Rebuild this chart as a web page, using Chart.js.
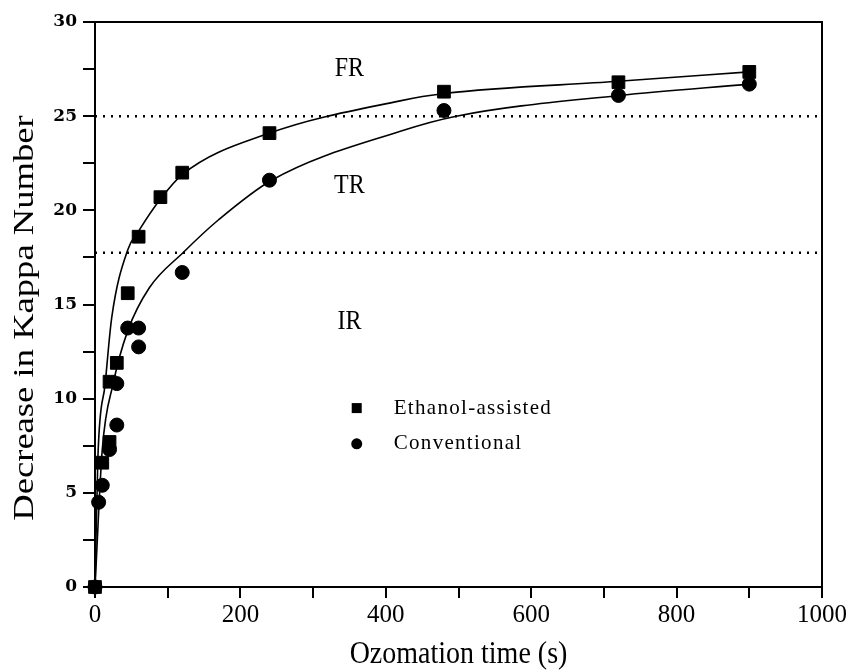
<!DOCTYPE html>
<html>
<head>
<meta charset="utf-8">
<script src="https://cdn.jsdelivr.net/npm/chart.js@4.4.1/dist/chart.umd.min.js"></script>
<style>
  html, body { margin: 0; padding: 0; background: #fff; }
  #wrap { width: 849px; height: 671px; }
</style>
</head>
<body>
<div id="wrap"><canvas id="kappaChart" width="849" height="671"></canvas></div>
<script>
const ethanolTime  = [0, 10, 20, 20, 30, 45, 60, 90, 120, 240, 480, 720, 900];
const ethanolKappa = [0, 6.6, 7.7, 10.9, 11.9, 15.6, 18.6, 20.7, 22.0, 24.1, 26.3, 26.8, 27.35];

const convTime  = [0, 5, 10, 20, 30, 30, 45, 60, 60, 120, 240, 480, 720, 900];
const convKappa = [0, 4.5, 5.4, 7.3, 8.6, 10.8, 13.75, 13.75, 12.75, 16.7, 21.6, 25.3, 26.1, 26.7];

// fitted curves
const ethanolFitTime  = [0, 4, 14, 23, 45, 60, 90, 120, 240, 418, 480, 720, 900];
const ethanolFitKappa = [0, 6.9, 10.8, 14.3, 17.9, 18.9, 20.6, 21.9, 24.1, 25.8, 26.2, 26.85, 27.35];

const convFitTime  = [0, 10, 25, 45, 75, 121, 170, 243, 420, 497, 721, 900];
const convFitKappa = [0, 7.3, 10.8, 13.6, 15.9, 17.75, 19.5, 21.6, 24.2, 25.0, 26.1, 26.7];

// region boundaries (dotted lines) and labels
const regionBounds = [25, 17.75];
const regionNames  = ["FR", "TR", "IR"];
const regionLabelTime  = [350, 350, 350];
const regionLabelKappa = [27.5, 21.3, 14.1];

const seriesNames = ["Ethanol-assisted", "Conventional"];
const xTitle = "Ozomation time (s)";
const yTitle = "Decrease in Kappa Number";
const xMin = 0, xMax = 1000, yMin = 0, yMax = 30;

function toPoints(xs, ys) {
  return xs.map((x, i) => ({ x: x, y: ys[i] }));
}

const boundDatasets = regionBounds.map(v => ({
  type: "line",
  data: [{ x: xMin, y: v }, { x: xMax, y: v }],
  borderColor: "#000",
  borderWidth: 2.5,
  borderDash: [2, 6],
  pointRadius: 0,
  fill: false
}));

const framePlugin = {
  id: "frame",
  afterDraw(chart) {
    const { ctx, chartArea: a, scales } = chart;
    ctx.save();
    ctx.strokeStyle = "#000";
    ctx.lineWidth = 2;
    ctx.beginPath();
    ctx.moveTo(a.left, a.top);
    ctx.lineTo(a.right, a.top);
    ctx.lineTo(a.right, a.bottom);
    ctx.stroke();

    ctx.fillStyle = "#000";
    ctx.textAlign = "center";
    ctx.textBaseline = "middle";

    // region labels
    ctx.font = "24px 'Liberation Serif'";
    regionNames.forEach((n, i) => {
      const px = scales.x.getPixelForValue(regionLabelTime[i]);
      const py = scales.y.getPixelForValue(regionLabelKappa[i]);
      ctx.save();
      ctx.translate(px, py);
      ctx.scale(1, 1.12);
      ctx.fillText(n, 0, 0);
      ctx.restore();
    });

    // axis titles (the figure is slightly stretched vertically)
    ctx.save();
    ctx.font = "28px 'Liberation Serif'";
    ctx.translate((a.left + a.right) / 2, 655);
    ctx.scale(1, 1.12);
    ctx.fillText(xTitle, 0, 0);
    ctx.restore();

    ctx.save();
    ctx.font = "30px 'Liberation Serif'";
    ctx.translate(25, 318);
    ctx.rotate(-Math.PI / 2);
    ctx.scale(1.22, 1);
    ctx.fillText(yTitle, 0, 0);
    ctx.restore();

    // legend
    const lx = scales.x.getPixelForValue(360);
    const ly1 = scales.y.getPixelForValue(9.5);
    const ly2 = scales.y.getPixelForValue(7.6);
    ctx.fillRect(lx - 5, ly1 - 5, 10, 10);
    ctx.beginPath();
    ctx.arc(lx, ly2, 5.5, 0, Math.PI * 2);
    ctx.fill();
    ctx.font = "21px 'Liberation Serif'";
    ctx.textAlign = "left";
    ctx.letterSpacing = "1.3px";
    ctx.fillText(seriesNames[0], lx + 37, ly1);
    ctx.fillText(seriesNames[1], lx + 37, ly2);
    ctx.restore();
  }
};

const ctx = document.getElementById("kappaChart").getContext("2d");
new Chart(ctx, {
  type: "scatter",
  data: {
    datasets: [
      {
        type: "line",
        data: toPoints(ethanolFitTime, ethanolFitKappa),
        borderColor: "#000",
        borderWidth: 1.6,
        pointRadius: 0,
        cubicInterpolationMode: "monotone",
        fill: false
      },
      {
        type: "line",
        data: toPoints(convFitTime, convFitKappa),
        borderColor: "#000",
        borderWidth: 1.6,
        pointRadius: 0,
        cubicInterpolationMode: "monotone",
        fill: false
      },
      ...boundDatasets,
      {
        label: seriesNames[0],
        data: toPoints(ethanolTime, ethanolKappa),
        pointStyle: "rect",
        pointRadius: 9,
        backgroundColor: "#000",
        borderColor: "#000",
        clip: false
      },
      {
        label: seriesNames[1],
        data: toPoints(convTime, convKappa),
        pointStyle: "circle",
        pointRadius: 7,
        backgroundColor: "#000",
        borderColor: "#000",
        clip: false
      }
    ]
  },
  options: {
    responsive: false,
    animation: false,
    layout: { padding: { top: 22, right: 26, left: 0, bottom: 0 } },
    plugins: {
      legend: { display: false },
      tooltip: { enabled: false }
    },
    scales: {
      x: {
        type: "linear",
        min: xMin,
        max: xMax,
        afterFit: s => { s.height = 84; },
        border: { display: true, color: "#000", width: 2 },
        grid: { drawOnChartArea: false, drawTicks: true, tickLength: 11, color: "#000", lineWidth: 2 },
        ticks: {
          stepSize: 100,
          maxRotation: 0,
          color: "#000",
          padding: 2,
          font: { family: "'Liberation Serif'", size: 25 },
          callback: v => (v % 200 === 0 ? v : "")
        }
      },
      y: {
        type: "linear",
        min: yMin,
        max: yMax,
        afterFit: s => { s.width = 95; },
        border: { display: true, color: "#000", width: 2 },
        grid: { drawOnChartArea: false, drawTicks: true, tickLength: 12, color: "#000", lineWidth: 2 },
        ticks: {
          stepSize: 2.5,
          color: "#000",
          padding: 6,
          font: { family: "'DejaVu Serif'", size: 17, weight: "bold" },
          callback: v => (v % 5 === 0 ? v : "")
        }
      }
    }
  },
  plugins: [framePlugin]
});
</script>
</body>
</html>
